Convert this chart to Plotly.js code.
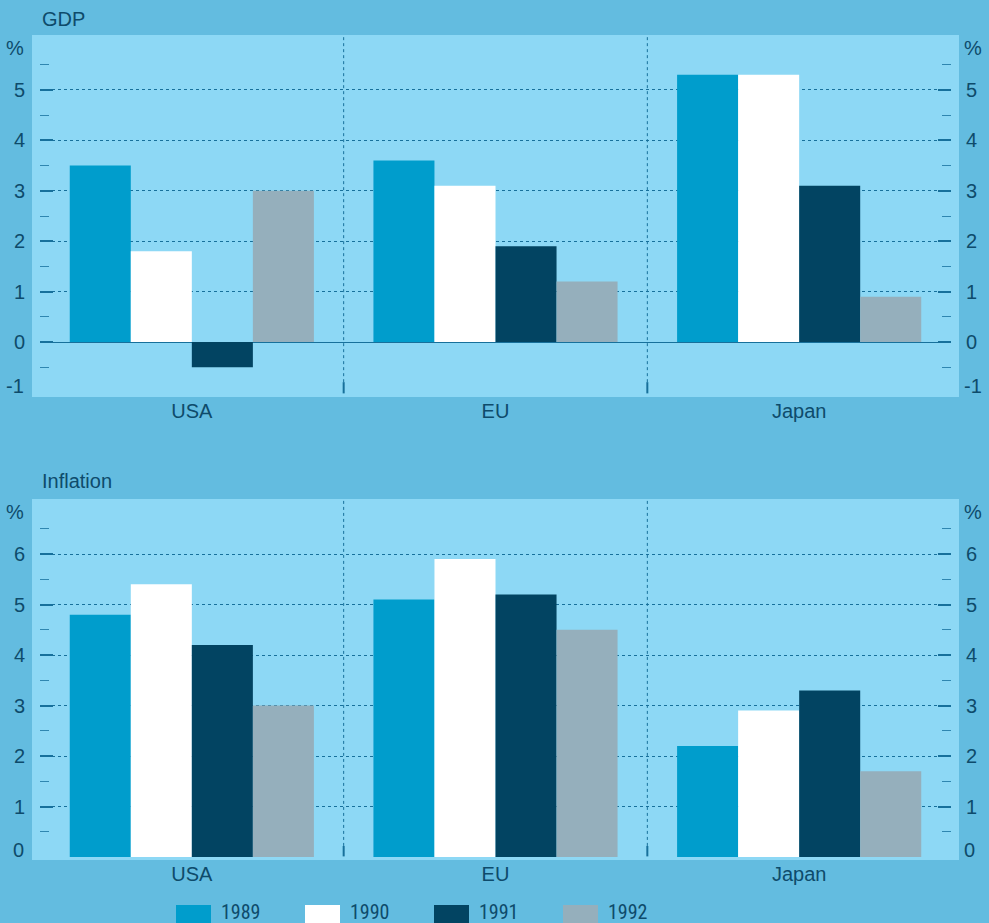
<!DOCTYPE html>
<html>
<head>
<meta charset="utf-8">
<script src="https://cdn.plot.ly/plotly-3.0.1.min.js"></script>
<style>html,body{margin:0;padding:0;background:#63BCE0;}#chart{width:989px;height:923px;}</style>
</head>
<body>
<div id="chart"></div>
<script>
// ---- data ----
const categories = ['USA', 'EU', 'Japan'];
const years = ['1989', '1990', '1991', '1992'];
const gdp1989 = [3.5, 3.6, 5.3];
const gdp1990 = [1.8, 3.1, 5.3];
const gdp1991 = [-0.5, 1.9, 3.1];
const gdp1992 = [3.0, 1.2, 0.9];
const inf1989 = [4.8, 5.1, 2.2];
const inf1990 = [5.4, 5.9, 2.9];
const inf1991 = [4.2, 5.2, 3.3];
const inf1992 = [3.0, 4.5, 1.7];
const gdpTicks = [0, 1, 2, 3, 4, 5];      // labelled on the axis; -1 drawn as edge label
const infTicks = [1, 2, 3, 4, 5, 6];      // labelled on the axis; 0 drawn as edge label
const panelTitles = ['GDP', 'Inflation'];

// ---- style ----
const W = 989, H = 923;
const colors = ['#009DCC', '#FFFFFF', '#024462', '#95AFBC'];
const outerBg = '#63BCE0';
const plotBg = '#8DD8F5';
const textColor = '#0E4B6B';
const gridColor = '#17709B';
const font = 'Arial, "Liberation Sans", sans-serif';
const px = x => x / W;
const py = y => 1 - y / H;

const gdpSeries = [gdp1989, gdp1990, gdp1991, gdp1992];
const infSeries = [inf1989, inf1990, inf1991, inf1992];

const traces = [];
years.forEach((yr, i) => {
  traces.push({type: 'bar', x: categories, y: gdpSeries[i], name: yr, xaxis: 'x', yaxis: 'y',
    marker: {color: colors[i], line: {width: 0}}, showlegend: false, hoverinfo: 'x+y+name'});
  traces.push({type: 'bar', x: categories, y: infSeries[i], name: yr, xaxis: 'x2', yaxis: 'y3',
    marker: {color: colors[i], line: {width: 0}}, showlegend: false, hoverinfo: 'x+y+name'});
});

const xDomain = [px(40), px(951)];
const topDom = [py(397), py(35)];
const botDom = [py(860), py(499)];
const topRange = [-1.091, 6.091];
const botRange = [-0.059, 7.09];

function yAx(ticks, range, domain, side, overlay, grid, zero) {
  const minorVals = [];
  ticks.forEach(t => { minorVals.push(t + 0.5); });
  minorVals.unshift(ticks[0] - 0.5);
  const ax = {
    domain: domain, range: range, fixedrange: true,
    tickmode: 'array', tickvals: ticks, ticktext: ticks.map(String),
    ticks: 'inside', ticklen: 13, tickwidth: 2, tickcolor: gridColor,
    ticklabelstandoff: 14,
    tickfont: {family: font, size: 20, color: textColor},
    showgrid: grid, gridcolor: gridColor, griddash: 'dot', gridwidth: 1,
    zeroline: zero, zerolinecolor: gridColor, zerolinewidth: 1,
    showline: false, side: side,
    minor: {tickmode: 'array', tickvals: minorVals, ticks: 'inside', ticklen: 9, tickwidth: 1,
      tickcolor: '#2F86B0', showgrid: false}
  };
  if (overlay) { ax.overlaying = overlay; }
  return ax;
}

const shapes = [];
const annotations = [];
// panel backgrounds (slightly larger than axis area)
[[397, 35], [860, 499]].forEach(([b, t]) => {
  shapes.push({type: 'rect', xref: 'paper', yref: 'paper', x0: px(32), x1: px(959), y0: py(b), y1: py(t),
    fillcolor: plotBg, line: {width: 0}, layer: 'below'});
});
// category separators
[['x', 'y', 0.041], ['x2', 'y3', 0.039]].forEach(([xr, yr, tk]) => {
  for (let i = 0; i < categories.length - 1; i++) {
    shapes.push({type: 'line', xref: xr, yref: yr + ' domain', x0: i + 0.5, x1: i + 0.5, y0: tk, y1: 1,
      line: {color: gridColor, width: 1, dash: 'dot'}});
    shapes.push({type: 'line', xref: xr, yref: yr + ' domain', x0: i + 0.5, x1: i + 0.5, y0: 0.01, y1: tk,
      line: {color: gridColor, width: 2}});
  }
});
// panel titles
annotations.push({text: panelTitles[0], xref: 'paper', yref: 'paper', x: px(40), y: py(19), xanchor: 'left', yanchor: 'middle', showarrow: false, font: {family: font, size: 20, color: textColor}});
annotations.push({text: panelTitles[1], xref: 'paper', yref: 'paper', x: px(40), y: py(481), xanchor: 'left', yanchor: 'middle', showarrow: false, font: {family: font, size: 20, color: textColor}});
// edge axis labels
function edgeLabel(text, yref, yv, shift) {
  annotations.push({text: text, xref: 'paper', yref: yref, x: px(25.5), y: yv, yshift: shift, xanchor: 'right', yanchor: 'middle', showarrow: false, font: {family: font, size: 20, color: textColor}});
  annotations.push({text: text, xref: 'paper', yref: yref, x: px(962), y: yv, yshift: shift, xanchor: 'left', yanchor: 'middle', showarrow: false, font: {family: font, size: 20, color: textColor}});
}
edgeLabel('%', 'y', gdpTicks[gdpTicks.length - 1] + 1, -8);
edgeLabel(String(gdpTicks[0] - 1), 'y', gdpTicks[0] - 1, 6);
edgeLabel('%', 'y3', infTicks[infTicks.length - 1] + 1, -8.5);
edgeLabel(String(infTicks[0] - 1), 'y3', infTicks[0] - 1, 7);
// legend
years.forEach((yr, i) => {
  shapes.push({type: 'rect', xref: 'paper', yref: 'paper', x0: px(176 + i * 129), x1: px(211 + i * 129), y0: py(923), y1: py(905),
    fillcolor: colors[i], line: {width: 0}});
  annotations.push({text: yr, xref: 'paper', yref: 'paper', x: px(220 + i * 129), y: py(911.5), xanchor: 'left', yanchor: 'middle', showarrow: false,
    borderpad: 0,
    font: {family: '"Liberation Sans Narrow", "Arial Narrow", "Roboto Condensed", Arial, sans-serif', size: 20, color: textColor}});
});

const xAx = (dom, anchor) => ({
  domain: dom, anchor: anchor, type: 'category', range: [-0.5, 2.5], fixedrange: true,
  ticks: '', showgrid: false, zeroline: false, showline: false,
  tickfont: {family: font, size: 20, color: textColor}, ticklabelstandoff: 0
});

const layout = {
  width: W, height: H, margin: {l: 0, r: 0, t: 0, b: 0},
  paper_bgcolor: outerBg, plot_bgcolor: plotBg,
  barmode: 'group', bargap: 0.196, bargroupgap: 0,
  showlegend: false,
  xaxis: xAx(xDomain, 'y'),
  xaxis2: xAx(xDomain, 'y3'),
  yaxis: yAx(gdpTicks, topRange, topDom, 'left', null, true, true),
  yaxis2: yAx(gdpTicks, topRange, topDom, 'right', 'y', false, false),
  yaxis3: yAx(infTicks, botRange, botDom, 'left', null, true, false),
  yaxis4: yAx(infTicks, botRange, botDom, 'right', 'y3', false, false),
  shapes: shapes, annotations: annotations
};
layout.yaxis.anchor = 'x';
layout.yaxis2.anchor = 'x';
layout.yaxis3.anchor = 'x2';
layout.yaxis4.anchor = 'x2';

// empty traces to activate the right-hand axes
traces.push({type: 'scatter', x: [], y: [], xaxis: 'x', yaxis: 'y2', showlegend: false, hoverinfo: 'skip'});
traces.push({type: 'scatter', x: [], y: [], xaxis: 'x2', yaxis: 'y4', showlegend: false, hoverinfo: 'skip'});

Plotly.newPlot('chart', traces, layout, {displayModeBar: false, staticPlot: true});
</script>
</body>
</html>
